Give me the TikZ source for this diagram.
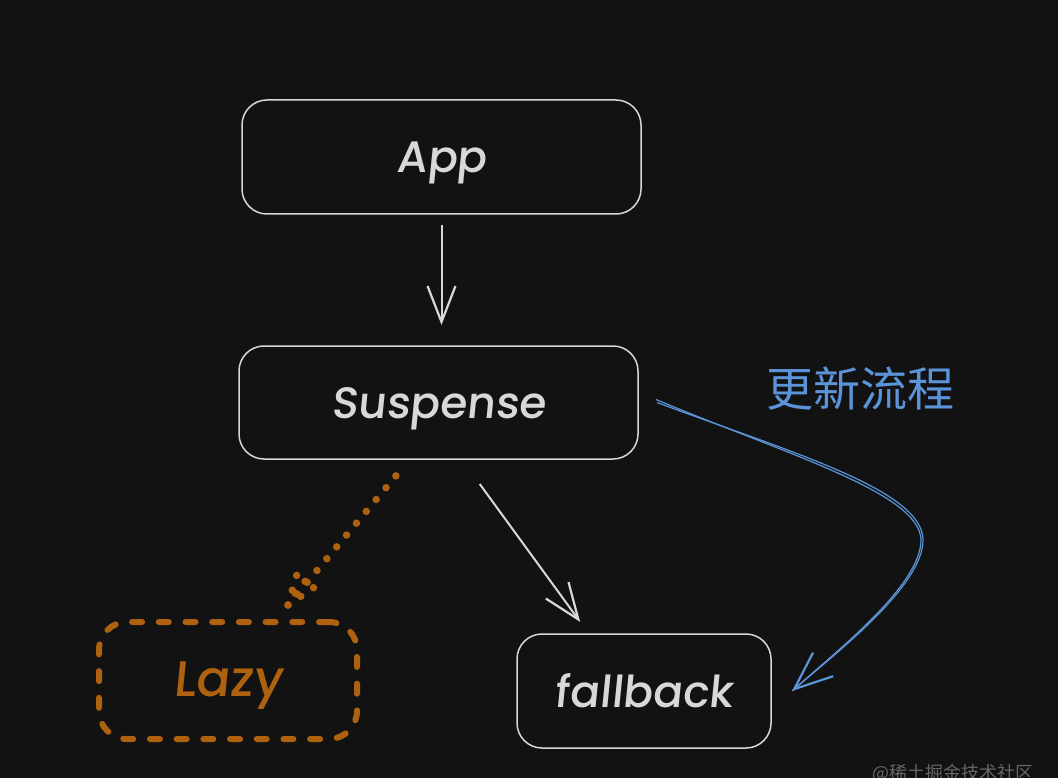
\documentclass[tikz,border=0pt]{standalone}
\usepackage{fontspec}
\setmainfont{Poppins}
\newfontfamily\sketchfont[FakeSlant=0.1]{Poppins Medium}
\newfontfamily\cjkfont{Noto Sans CJK SC}
\usepackage{xcolor}
\usetikzlibrary{calc,positioning,arrows.meta}
\definecolor{canvas_bg}{HTML}{121212}
\definecolor{sketch_white}{HTML}{D8D8D8}
\definecolor{sketch_blue}{HTML}{5B94D8}
\definecolor{sketch_orange}{HTML}{AE6210}
\newcommand{\sketchtext}[1]{\raisebox{-16pt}[0pt][0pt]{#1}}
\tikzset{
    sketch_box/.style={draw=sketch_white, line width=1.5pt, rounded corners=25pt, inner sep=0pt, outer sep=0pt, text=sketch_white, font=\sketchfont\fontsize{44pt}{50pt}\selectfont},
    lazy_box/.style={draw=sketch_orange, line width=6pt, line cap=round, rounded corners=28pt, dash pattern=on 10pt off 16.7pt, inner sep=0pt, outer sep=0pt},
    sketch_arrow/.style={draw=sketch_white, line width=2pt, -{Straight Barb[length=36pt,width=28pt,line width=2.2pt]}},
    blue_arrow/.style={draw=sketch_blue, line width=1.2pt, -{Straight Barb[length=38pt,width=31pt,line width=2.2pt]}},
    lazy_dots/.style={draw=sketch_orange, line width=7.5pt, line cap=round, dash pattern=on 0pt off 15.4pt},
}
\begin{document}
\begin{tikzpicture}[x=1pt, y=-1pt, align=center]
    \fill[canvas_bg] (0,0) rectangle (1058,778);
    \useasboundingbox (0,0) rectangle (1058,778);

    \node [sketch_box, minimum width=399pt, minimum height=114pt] (app) at (441.5,157) {\sketchtext{App}};
    \node [sketch_box, minimum width=399pt, minimum height=113pt, below=132pt of app, xshift=-3pt] (suspense) {\sketchtext{Suspense}};
    \node [lazy_box, minimum width=258pt, minimum height=117pt, below=163pt of suspense, xshift=-210.5pt] (lazy) {};
    \node [text=sketch_orange, font=\sketchfont\fontsize{50pt}{54pt}\selectfont] (lazy_text) at (lazy.center) {\sketchtext{Lazy}};
    \node [sketch_box, minimum width=254pt, minimum height=114pt, below=175pt of suspense, xshift=205.5pt] (fallback) {\sketchtext{fallback}};
    \node [text=sketch_blue, font=\cjkfont\fontsize{47pt}{50pt}\selectfont, inner sep=0pt] (update_label) at (860,389) {更新流程};
    \node [text=white!35!canvas_bg, font=\cjkfont\fontsize{18pt}{20pt}\selectfont, inner sep=0pt] (mark_label) at (953,773) {@稀土掘金技术社区};

    \draw[sketch_arrow, shorten <=11pt, shorten >=21pt] (app.south) -- ([xshift=3pt]suspense.north);
    \draw[sketch_arrow, shorten <=31pt, shorten >=15pt] ([xshift=23pt]suspense.south) -- ([xshift=-55pt]fallback.north);

    % blue stroke is drawn twice for the sketched look
    \coordinate (bend_a) at (923,540);
    \coordinate (bend_b) at (921,540);
    \draw[blue_arrow] ([xshift=19pt]suspense.east) .. controls (790,452) and (923,490) .. (bend_a) .. controls (923,585) and (840,650) .. ([xshift=21pt]fallback.east);
    \draw[draw=sketch_blue, line width=1.2pt] ([xshift=18pt,yshift=3pt]suspense.east) .. controls (788,455) and (920,493) .. (bend_b) .. controls (921,585) and (838,650) .. ([xshift=21pt]fallback.east);

    \draw[lazy_dots, shorten <=22pt, shorten >=22pt] ([xshift=-28.5pt]suspense.south) -- ([xshift=46pt]lazy.north);
    \coordinate (lazy_tip) at (288,605);
    \draw[lazy_dots] (lazy_tip) -- (299,567);
    \draw[lazy_dots] (lazy_tip) -- (319,584);
    \draw[lazy_dots] (295,593) -- (315,570);
\end{tikzpicture}
\end{document}
